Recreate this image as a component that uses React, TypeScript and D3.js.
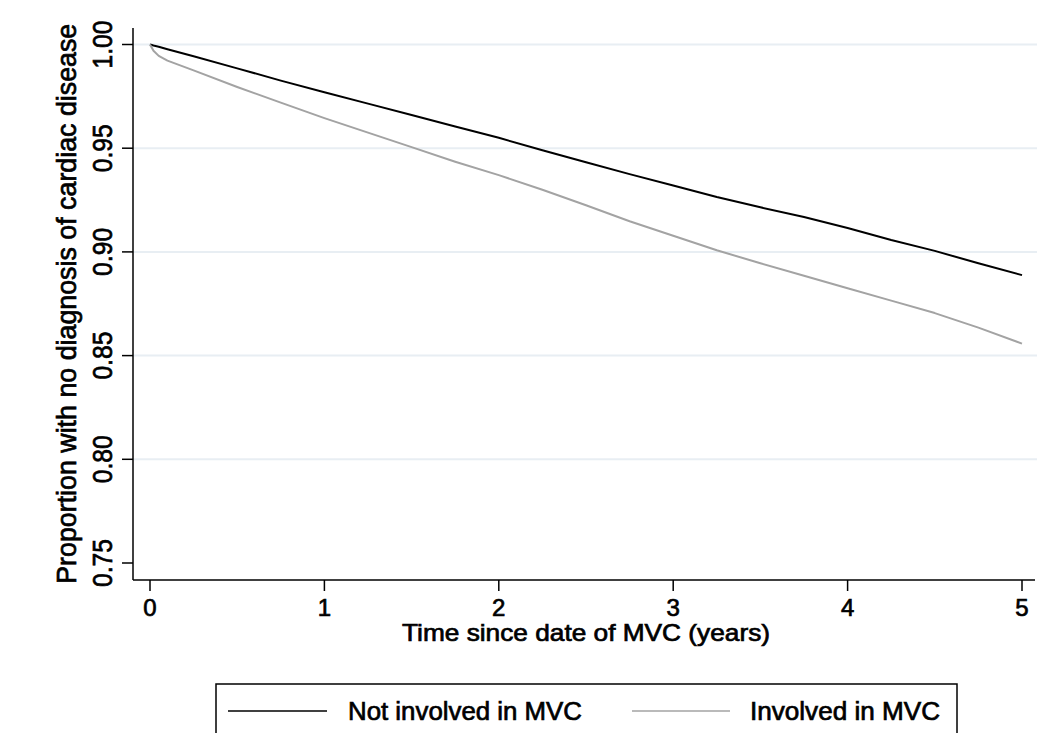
import React from "react";
import * as d3 from "d3";

// Survival time (years since MVC) and proportion free of cardiac disease
const years = [0, 0.02, 0.05, 0.1, 0.25, 0.5, 0.75, 1.0, 1.25, 1.5, 1.75, 2.0, 2.25, 2.5, 2.75, 3.0, 3.25, 3.5, 3.75, 4.0, 4.25, 4.5, 4.75, 5.0];
const notInvolved = [1.0, 0.9995, 0.9989, 0.9977, 0.9943, 0.9885, 0.9826, 0.977, 0.9715, 0.966, 0.9605, 0.955, 0.949, 0.9432, 0.9375, 0.932, 0.9265, 0.9215, 0.9168, 0.9115, 0.9057, 0.9005, 0.8945, 0.8888];
const involved = [1.0, 0.997, 0.9945, 0.9922, 0.9875, 0.9795, 0.972, 0.9645, 0.9575, 0.9505, 0.9435, 0.937, 0.93, 0.9225, 0.9148, 0.9078, 0.9008, 0.8945, 0.8885, 0.8825, 0.8765, 0.8705, 0.8635, 0.8558];

const xTicks = [0, 1, 2, 3, 4, 5];
const yTicks = [0.75, 0.8, 0.85, 0.9, 0.95, 1.0];
const yGrid = [0.8, 0.85, 0.9, 0.95, 1.0];

const seriesNames = ["Not involved in MVC", "Involved in MVC"];
const seriesColors = ["#000000", "#a3a3a3"];

const W = 1037;
const H = 733;
const FONT = "'Liberation Sans', Arial, Helvetica, sans-serif";

// slightly heavier glyphs for all labels
const textStyle = { fill: "#000", stroke: "#000", strokeWidth: 0.7 } as const;

export default function App() {
  const x = d3.scaleLinear().domain([0, 5]).range([150, 1022]);
  const y = d3.scaleLinear().domain([0.75, 1.0]).range([563, 44.5]);
  const axisX = 133;
  const axisY = 580;

  const line = d3
    .line<number>()
    .x((_, i) => x(years[i]))
    .y((d) => y(d));

  const series = [notInvolved, involved];

  return (
    <svg
      width={W}
      height={H}
      style={{ position: "absolute", left: 0, top: 0, background: "#fff" }}
      fontFamily={FONT}
    >
      {/* horizontal gridlines */}
      {yGrid.map((v) => (
        <line key={v} x1={axisX} x2={W} y1={y(v)} y2={y(v)} stroke="#e8eef3" strokeWidth={2} />
      ))}

      {/* survival curves */}
      {series.map((s, i) => (
        <path key={i} d={line(s) ?? ""} fill="none" stroke={seriesColors[i]} strokeWidth={2} strokeLinejoin="round" />
      ))}

      {/* y axis */}
      <line x1={axisX} x2={axisX} y1={y(1.008)} y2={axisY} stroke="#000" strokeWidth={1.5} />
      {yTicks.map((v) => (
        <g key={v}>
          <line x1={axisX - 11} x2={axisX} y1={y(v)} y2={y(v)} stroke="#000" strokeWidth={1.5} />
          <text
            transform={`translate(112,${y(v)}) rotate(-90)`}
            textAnchor="middle"
            fontSize={27}
            textLength={48}
            lengthAdjust="spacingAndGlyphs"
            {...textStyle}
          >
            {v.toFixed(2)}
          </text>
        </g>
      ))}
      <text
        transform={`translate(76,${(y(0.75) + y(1.0)) / 2}) rotate(-90)`}
        textAnchor="middle"
        fontSize={27}
        textLength={560}
        lengthAdjust="spacingAndGlyphs"
        {...textStyle}
      >
        Proportion with no diagnosis of cardiac disease
      </text>

      {/* x axis */}
      <line x1={axisX} x2={1035} y1={axisY} y2={axisY} stroke="#000" strokeWidth={1.5} />
      {xTicks.map((t) => (
        <g key={t}>
          <line x1={x(t)} x2={x(t)} y1={axisY} y2={axisY + 11} stroke="#000" strokeWidth={1.5} />
          <text x={x(t)} y={616} textAnchor="middle" fontSize={24} {...textStyle}>
            {t}
          </text>
        </g>
      ))}
      <text
        x={(x(0) + x(5)) / 2}
        y={641}
        textAnchor="middle"
        fontSize={24}
        textLength={368}
        lengthAdjust="spacingAndGlyphs"
        {...textStyle}
      >
        Time since date of MVC (years)
      </text>

      {/* legend */}
      <rect x={216} y={684} width={741} height={70} fill="#fff" stroke="#000" strokeWidth={1.5} />
      <line x1={228} x2={327} y1={711} y2={711} stroke={seriesColors[0]} strokeWidth={1.5} />
      <text x={348} y={720} fontSize={25.5} textLength={234} lengthAdjust="spacingAndGlyphs" {...textStyle}>
        {seriesNames[0]}
      </text>
      <line x1={632} x2={730} y1={711} y2={711} stroke={seriesColors[1]} strokeWidth={1.5} />
      <text x={750} y={720} fontSize={25.5} textLength={190} lengthAdjust="spacingAndGlyphs" {...textStyle}>
        {seriesNames[1]}
      </text>
    </svg>
  );
}
